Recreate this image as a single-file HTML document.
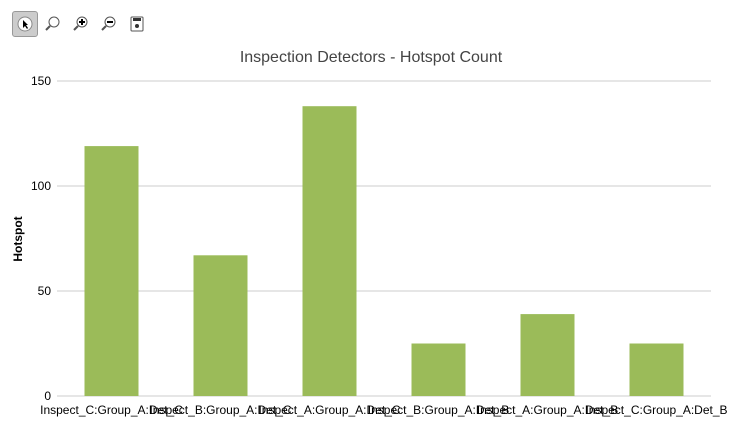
<!DOCTYPE html>
<html><head><meta charset="utf-8"><style>
body{margin:0;background:#fff;font-family:"Liberation Sans",sans-serif;}
.tb{position:absolute;top:11px;width:26px;height:26px;display:flex;align-items:center;justify-content:center;}
</style></head><body>
<div style="position:relative;width:742px;height:429px;overflow:hidden">
<div class="tb" style="left:12px;background:#ccc;border:1px solid #999;border-radius:3px;box-sizing:border-box">
<svg width="18" height="18"><circle cx="9" cy="9" r="7" fill="#fff" stroke="#888"/><path d="M7 5 L7 13 L9 11 L11 14 L12 13 L10 10 L12 10 Z" fill="#000"/></svg></div>
<div class="tb" style="left:40px"><svg width="18" height="18"><circle cx="10" cy="7" r="5" fill="#fff" stroke="#555"/><line x1="6" y1="11" x2="2" y2="15" stroke="#555" stroke-width="2"/></svg></div>
<div class="tb" style="left:68px"><svg width="18" height="18"><circle cx="10" cy="7" r="5" fill="#fff" stroke="#555"/><path d="M7 7h6M10 4v6" stroke="#000" stroke-width="2"/><line x1="6" y1="11" x2="2" y2="15" stroke="#555" stroke-width="2"/></svg></div>
<div class="tb" style="left:96px"><svg width="18" height="18"><circle cx="10" cy="7" r="5" fill="#fff" stroke="#555"/><path d="M7 7h6" stroke="#000" stroke-width="2"/><line x1="6" y1="11" x2="2" y2="15" stroke="#555" stroke-width="2"/></svg></div>
<div class="tb" style="left:124px"><svg width="18" height="18"><rect x="3" y="2" width="12" height="14" rx="1" fill="#fff" stroke="#555"/><rect x="5" y="3" width="8" height="3" fill="#333"/><circle cx="9" cy="11" r="2" fill="#333"/></svg></div>
<svg id="chart" width="742" height="429" style="position:absolute;left:0;top:0">
<text x="371" y="62" text-anchor="middle" font-size="16" fill="#444">Inspection Detectors - Hotspot Count</text>
<text transform="translate(22,239) rotate(-90)" text-anchor="middle" font-size="12" font-weight="bold" fill="#000">Hotspot</text>
</svg>
</div>
<script>
const categories=["Inspect_C:Group_A:Det_C","Inspect_B:Group_A:Det_C","Inspect_A:Group_A:Det_C","Inspect_B:Group_A:Det_B","Inspect_A:Group_A:Det_B","Inspect_C:Group_A:Det_B"];
const values=[119,67,138,25,39,25];
const yTicks=[0,50,100,150];
const NS="http://www.w3.org/2000/svg";
const svg=document.getElementById('chart');
const x0=57,x1=711,y0=396,yTop=81,yMax=150;
const y=v=>y0-(v/yMax)*(y0-yTop);
const band=(x1-x0)/categories.length;
function mk(t,a){const e=document.createElementNS(NS,t);for(const k in a)e.setAttribute(k,a[k]);svg.appendChild(e);return e;}
yTicks.forEach(t=>{
 const l=mk('line',{x1:x0,x2:x1,y1:y(t),y2:y(t),stroke:'#ccc','stroke-width':1});
 
 
 const tx=mk('text',{x:51,y:y(t)+4,'text-anchor':'end','font-size':12,fill:'#000'});
 tx.textContent=t;
 
 
});
categories.forEach((c,i)=>{
 const cx=x0+band*(i+0.5);
 const r=mk('rect',{x:cx-27,y:y(values[i]),width:54,height:y0-y(values[i]),fill:'#9bbb59'});
 
 
 const t=mk('text',{x:cx,y:414,'text-anchor':'middle','font-size':12,fill:'#000'});
 t.textContent=c;
 
 
});
</script>
</body></html>
